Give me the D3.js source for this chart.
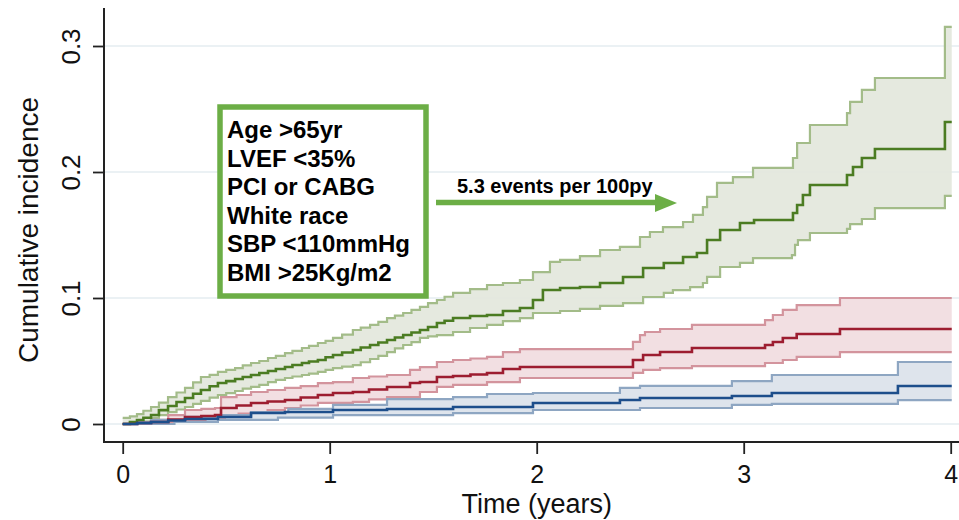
<!DOCTYPE html>
<html>
<head>
<meta charset="utf-8">
<script src="https://cdn.jsdelivr.net/npm/d3@7"></script>
<style>
  html, body { margin: 0; padding: 0; background: #fff; }
  svg { display: block; font-family: "Liberation Sans", Arial, sans-serif; }
</style>
</head>
<body>
<svg id="chart" width="959" height="520"></svg>
<script>
// ---------------- DATA (time in years, cumulative incidence) ----------------
const xTicks = [0, 1, 2, 3, 4];
const yTicks = [0, 0.1, 0.2, 0.3];
const yTickLabels = ["0", "0.1", "0.2", "0.3"];
const xTitle = "Time (years)";
const yTitle = "Cumulative incidence";
const riskFactors = ["Age >65yr", "LVEF <35%", "PCI or CABG", "White race", "SBP <110mmHg", "BMI >25Kg/m2"];
const rateLabel = "5.3 events per 100py";
const endTime = 4.005;

// High-risk group (green)
const greenEst = [[0,0],[0.035,0.0016],[0.069,0.0032],[0.10,0.005],[0.137,0.0071],[0.175,0.011],[0.219,0.0143],[0.26,0.0175],[0.301,0.0206],[0.34,0.024],[0.378,0.0270],[0.42,0.030],[0.460,0.0325],[0.50,0.034],[0.543,0.0357],[0.58,0.0373],[0.620,0.0389],[0.66,0.0405],[0.702,0.0421],[0.74,0.0437],[0.784,0.0452],[0.82,0.0468],[0.866,0.0484],[0.90,0.0496],[0.943,0.0508],[0.98,0.053],[1.016,0.0548],[1.06,0.0567],[1.112,0.0587],[1.15,0.0607],[1.195,0.0627],[1.235,0.0647],[1.277,0.0667],[1.315,0.0687],[1.355,0.0706],[1.395,0.0726],[1.436,0.0746],[1.475,0.077],[1.518,0.0802],[1.555,0.082],[1.596,0.0841],[1.678,0.0857],[1.760,0.0865],[1.837,0.0897],[1.919,0.0921],[1.982,0.0984],[2.030,0.1063],[2.113,0.1079],[2.209,0.1087],[2.306,0.1119],[2.417,0.1167],[2.514,0.1238],[2.614,0.1278],[2.707,0.1325],[2.774,0.1357],[2.823,0.1460],[2.886,0.1540],[2.982,0.1595],[3.050,0.1619],[3.238,0.1675],[3.258,0.1738],[3.286,0.1817],[3.320,0.1897],[3.499,0.1976],[3.528,0.2040],[3.571,0.2111],[3.634,0.2183],[3.972,0.2397]];
const greenUpper = [[0,0.0048],[0.035,0.006],[0.069,0.0079],[0.10,0.0105],[0.137,0.0135],[0.175,0.017],[0.219,0.0214],[0.26,0.025],[0.301,0.0286],[0.34,0.033],[0.378,0.0373],[0.42,0.039],[0.460,0.0413],[0.50,0.043],[0.543,0.0444],[0.58,0.0465],[0.620,0.0484],[0.66,0.050],[0.702,0.0524],[0.74,0.054],[0.784,0.0563],[0.82,0.058],[0.866,0.0603],[0.90,0.062],[0.943,0.0643],[0.98,0.066],[1.016,0.0683],[1.06,0.071],[1.112,0.0746],[1.15,0.0765],[1.195,0.0786],[1.235,0.081],[1.277,0.0841],[1.315,0.086],[1.355,0.0881],[1.395,0.0905],[1.436,0.0929],[1.475,0.096],[1.518,0.0984],[1.555,0.101],[1.596,0.1040],[1.678,0.1071],[1.760,0.1103],[1.837,0.1119],[1.919,0.1143],[1.982,0.1206],[2.064,0.1286],[2.113,0.1302],[2.209,0.1333],[2.306,0.1381],[2.402,0.1405],[2.499,0.1484],[2.547,0.1524],[2.610,0.1563],[2.707,0.1603],[2.755,0.1659],[2.803,0.1722],[2.823,0.1802],[2.871,0.1913],[2.948,0.1960],[3.045,0.2032],[3.238,0.2111],[3.258,0.2230],[3.320,0.2373],[3.499,0.2468],[3.514,0.2556],[3.571,0.2651],[3.634,0.2746],[3.972,0.3151]];
const greenLower = [[0,0],[0.07,0.002],[0.137,0.0048],[0.175,0.007],[0.219,0.0095],[0.26,0.0115],[0.301,0.0135],[0.34,0.016],[0.378,0.0183],[0.42,0.021],[0.460,0.0230],[0.50,0.0245],[0.543,0.0262],[0.58,0.028],[0.620,0.0294],[0.66,0.031],[0.702,0.0333],[0.74,0.035],[0.784,0.0365],[0.82,0.0377],[0.866,0.0389],[0.90,0.040],[0.943,0.0413],[0.98,0.043],[1.016,0.0444],[1.06,0.0455],[1.112,0.0468],[1.15,0.049],[1.195,0.0516],[1.235,0.054],[1.277,0.0571],[1.315,0.060],[1.355,0.0627],[1.395,0.065],[1.436,0.0683],[1.475,0.0695],[1.518,0.0706],[1.596,0.0730],[1.678,0.0762],[1.760,0.0786],[1.837,0.0817],[1.919,0.0841],[1.982,0.0881],[2.113,0.0897],[2.209,0.0913],[2.306,0.0937],[2.417,0.0960],[2.514,0.1008],[2.614,0.1040],[2.658,0.1063],[2.741,0.1087],[2.803,0.1119],[2.823,0.1167],[2.886,0.1246],[2.982,0.1278],[3.045,0.1317],[3.233,0.1341],[3.248,0.1421],[3.262,0.1460],[3.320,0.1516],[3.499,0.1548],[3.514,0.1587],[3.571,0.1627],[3.634,0.1714],[3.972,0.1810]];

// Intermediate-risk group (red)
const redEst = [[0,0],[0.07,0.0008],[0.137,0.0016],[0.22,0.0035],[0.301,0.0056],[0.38,0.0063],[0.446,0.0071],[0.475,0.0127],[0.55,0.0147],[0.620,0.0167],[0.70,0.0178],[0.784,0.0190],[0.86,0.021],[0.943,0.0230],[1.016,0.0246],[1.112,0.0254],[1.19,0.0274],[1.277,0.0294],[1.388,0.0325],[1.436,0.0333],[1.518,0.0373],[1.596,0.0381],[1.68,0.0393],[1.760,0.0405],[1.837,0.0437],[1.919,0.0452],[2.465,0.0508],[2.514,0.0548],[2.596,0.0571],[2.750,0.0603],[3.103,0.0627],[3.141,0.0651],[3.189,0.0683],[3.256,0.0714],[3.465,0.0754]];
const redUpper = [[0,0],[0.07,0.0016],[0.137,0.0032],[0.22,0.007],[0.301,0.0111],[0.38,0.012],[0.446,0.0127],[0.475,0.0214],[0.55,0.023],[0.620,0.0254],[0.70,0.027],[0.784,0.0286],[0.86,0.030],[0.943,0.0325],[1.016,0.0333],[1.112,0.0365],[1.19,0.0377],[1.277,0.0389],[1.388,0.0429],[1.436,0.0452],[1.518,0.0492],[1.596,0.0508],[1.68,0.052],[1.760,0.0532],[1.837,0.0571],[1.919,0.0595],[2.465,0.0651],[2.499,0.0706],[2.523,0.0730],[2.596,0.0754],[2.750,0.0786],[3.103,0.0825],[3.141,0.0865],[3.189,0.0905],[3.256,0.0944],[3.465,0.1000]];
const redLower = [[0,0],[0.15,0.0016],[0.301,0.0032],[0.40,0.005],[0.494,0.0071],[0.56,0.0083],[0.620,0.0095],[0.70,0.011],[0.784,0.0127],[0.86,0.0147],[0.943,0.0167],[1.112,0.0175],[1.19,0.0195],[1.277,0.0214],[1.436,0.0254],[1.518,0.0294],[1.596,0.0310],[1.760,0.0333],[1.919,0.0365],[2.465,0.0405],[2.514,0.0429],[2.596,0.0444],[2.750,0.0460],[3.103,0.0484],[3.189,0.0508],[3.256,0.0532],[3.465,0.0571]];

// Low-risk group (blue)
const blueEst = [[0,0],[0.07,0.0008],[0.137,0.0016],[0.22,0.0028],[0.301,0.0040],[0.460,0.0056],[0.620,0.0087],[0.784,0.0095],[1.016,0.0111],[1.277,0.0119],[1.596,0.0135],[1.982,0.0167],[2.402,0.0190],[2.499,0.0206],[2.943,0.0222],[3.136,0.0246],[3.745,0.0302]];
const blueUpper = [[0,0],[0.07,0.0016],[0.137,0.0032],[0.301,0.0056],[0.460,0.0071],[0.620,0.0095],[0.80,0.012],[1.016,0.0151],[1.277,0.0198],[1.596,0.0214],[1.760,0.0238],[1.982,0.0246],[2.402,0.0286],[2.499,0.0302],[2.943,0.0341],[3.136,0.0389],[3.745,0.0492]];
const blueLower = [[0,0],[0.25,0.0016],[0.460,0.0032],[0.75,0.005],[1.016,0.0071],[1.596,0.0087],[1.982,0.0111],[2.499,0.0127],[2.943,0.0151],[3.136,0.0159],[3.745,0.0190]];

// ---------------- CHART ----------------
const svg = d3.select("#chart");
const x = d3.scaleLinear().domain([0, 4]).range([122.7, 950.7]);
const y = d3.scaleLinear().domain([0, 0.3]).range([424, 46]);
const axisLeftX = 104, axisBottomY = 442;

const series = [
  {est: greenEst, up: greenUpper, lo: greenLower, line: "#4b7c22", ci: "#a3bc89", fill: "#e3e7dc"},
  {est: redEst,   up: redUpper,   lo: redLower,   line: "#9d1d30", ci: "#d3949d", fill: "#f1dcdf"},
  {est: blueEst,  up: blueUpper,  lo: blueLower,  line: "#1d4e8b", ci: "#8ea6c2", fill: "#dbe2ea"}
];
const withEnd = arr => arr.concat([[endTime, arr[arr.length - 1][1]]]);
const stepVal = (arr, t) => { let v = arr[0][1]; for (const p of arr) { if (p[0] <= t) v = p[1]; else break; } return v; };

// gridlines
svg.append("g").selectAll("line").data(yTicks).join("line")
  .attr("x1", axisLeftX + 1).attr("x2", 959)
  .attr("y1", d => y(d)).attr("y2", d => y(d))
  .attr("stroke", "#e5edf0").attr("stroke-width", 1.6);

const line = d3.line().x(d => x(d[0])).y(d => y(d[1])).curve(d3.curveStepAfter);
const area = d3.area().x(d => x(d.t)).y0(d => y(d.lo)).y1(d => y(d.up)).curve(d3.curveStepAfter);

// CI bands
series.forEach(s => {
  const up = withEnd(s.up), lo = withEnd(s.lo);
  const times = Array.from(new Set(up.map(d => d[0]).concat(lo.map(d => d[0])))).sort((a, b) => a - b);
  const band = times.map(t => ({t, up: stepVal(up, t), lo: stepVal(lo, t)}));
  svg.append("path").datum(band).attr("d", area).attr("fill", s.fill).attr("fill-opacity", 0.92);
});
// CI lines
series.forEach(s => {
  [s.up, s.lo].forEach(arr => {
    svg.append("path").datum(withEnd(arr)).attr("d", line)
      .attr("fill", "none").attr("stroke", s.ci).attr("stroke-width", 2.2);
  });
});
// estimates
series.forEach(s => {
  svg.append("path").datum(withEnd(s.est)).attr("d", line)
    .attr("fill", "none").attr("stroke", s.line).attr("stroke-width", 2.6);
});

// axes
const yAxis = svg.append("g").attr("transform", `translate(${axisLeftX},0)`)
  .call(d3.axisLeft(y).tickValues(yTicks).tickSize(11).tickFormat((d, i) => yTickLabels[i]));
yAxis.select(".domain").remove();
yAxis.selectAll(".tick line").attr("stroke", "#222").attr("stroke-width", 1.8);
yAxis.selectAll(".tick text")
  .attr("font-size", 26).attr("fill", "#111")
  .attr("text-anchor", "middle").attr("x", null).attr("dy", null)
  .attr("transform", "translate(-24,0) rotate(-90)").attr("y", 0);

const xAxis = svg.append("g").attr("transform", `translate(0,${axisBottomY})`)
  .call(d3.axisBottom(x).tickValues(xTicks).tickSize(12).tickFormat(d3.format("d")));
xAxis.select(".domain").remove();
xAxis.selectAll(".tick line").attr("stroke", "#222").attr("stroke-width", 1.8);
xAxis.selectAll(".tick text").attr("font-size", 25).attr("fill", "#111").attr("dy", null).attr("y", 41);

svg.append("line").attr("x1", axisLeftX).attr("x2", axisLeftX).attr("y1", 8).attr("y2", axisBottomY + 1)
  .attr("stroke", "#222").attr("stroke-width", 2);
svg.append("line").attr("x1", axisLeftX).attr("x2", 959).attr("y1", axisBottomY).attr("y2", axisBottomY)
  .attr("stroke", "#222").attr("stroke-width", 2);

// titles
svg.append("text").attr("x", (x(0) + x(4)) / 2).attr("y", 513).attr("text-anchor", "middle")
  .attr("font-size", 27).attr("fill", "#111").text(xTitle);
svg.append("text").attr("transform", "translate(38,230) rotate(-90)").attr("text-anchor", "middle")
  .attr("font-size", 28).attr("fill", "#111").text(yTitle);

// annotation box
const green = "#6cae46";
svg.append("rect").attr("x", 220).attr("y", 107).attr("width", 206).attr("height", 189)
  .attr("fill", "#fff").attr("stroke", green).attr("stroke-width", 5.5);
svg.append("g").selectAll("text").data(riskFactors).join("text")
  .attr("x", 227).attr("y", (d, i) => 138 + i * 28.6)
  .attr("font-size", 24).attr("font-weight", "bold").attr("fill", "#000").text(d => d);

// arrow + rate label
svg.append("line").attr("x1", 436).attr("x2", 657).attr("y1", 202.5).attr("y2", 202.5)
  .attr("stroke", green).attr("stroke-width", 5.5);
svg.append("path").attr("d", "M655,194 L677,203 L655,212 Z").attr("fill", green);
svg.append("text").attr("x", 457).attr("y", 193).attr("font-size", 20).attr("font-weight", "bold")
  .attr("fill", "#000").text(rateLabel);
</script>
</body>
</html>
